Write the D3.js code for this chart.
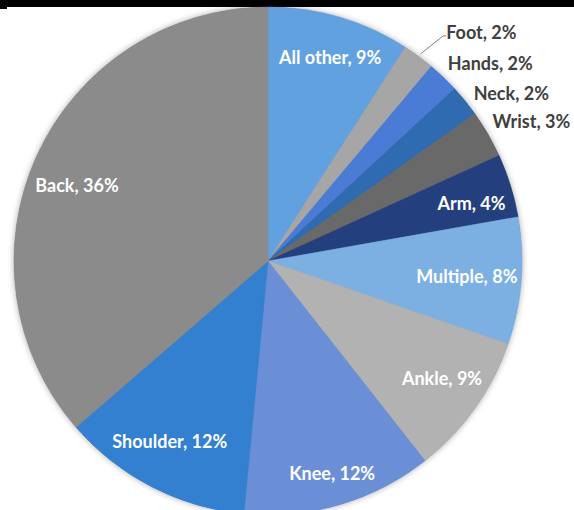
<!DOCTYPE html>
<html><head><meta charset="utf-8">
<script src="https://cdn.jsdelivr.net/npm/d3@7"></script>
<style>html,body{margin:0;padding:0;background:#fff;overflow:hidden}</style>
</head><body>
<svg id="chart" width="574" height="510"></svg>
<script>
// ---- data ----
const categories = ["All other","Foot","Hands","Neck","Wrist","Arm","Multiple","Ankle","Knee","Shoulder","Back"];
const percents   = [9, 2, 2, 2, 3, 4, 8, 9, 12, 12, 36];
const colors     = ["#62a1e0","#a6a6a6","#4a7cd6","#2f6bb0","#696969","#233f7e","#7cb0e2","#b2b2b2","#6b8fd6","#3280cf","#8b8b8b"];
const outsideLabels = ["Foot","Hands","Neck","Wrist"];

// ---- layout ----
const W = 574, H = 510;
const cx = 268, cy = 261, R = 254;
// small label nudges (layout only), in px
const nudge = {
  "All other":[3,-2], "Foot":[0,3], "Hands":[-3,-6], "Neck":[0,0], "Wrist":[-5,-7],
  "Arm":[3,5], "Multiple":[0,-1], "Ankle":[3,-4], "Knee":[5,11], "Shoulder":[-2,-6], "Back":[0,12]
};
const svg = d3.select("#chart");

// top black strip (cropped title bar)
svg.append("rect").attr("x",0).attr("y",0).attr("width",W).attr("height",7).attr("fill","#000");
svg.append("rect").attr("x",0).attr("y",0).attr("width",7).attr("height",9).attr("fill","#000");

const defs = svg.append("defs");
const f = defs.append("filter").attr("id","shadow").attr("x","-10%").attr("y","-10%").attr("width","120%").attr("height","120%");
f.append("feDropShadow").attr("dx",0).attr("dy",0).attr("stdDeviation",3).attr("flood-color","#000").attr("flood-opacity",0.35);

const data = categories.map((c,i)=>({cat:c, value:percents[i], color:colors[i]}));
const pie = d3.pie().sort(null).value(d=>d.value).startAngle(0).endAngle(2*Math.PI);
const arcs = pie(data);
const arc = d3.arc().innerRadius(0).outerRadius(R);

const g = svg.append("g").attr("transform",`translate(${cx},${cy})`);
g.append("circle").attr("r",R).attr("fill","#888").attr("filter","url(#shadow)");
g.selectAll("path.slice").data(arcs).enter().append("path")
  .attr("class","slice")
  .attr("d",arc)
  .attr("fill",d=>d.data.color)
  .attr("stroke",d=>d.data.color).attr("stroke-width",0.5);

const polar = (a,r)=>[r*Math.sin(a), -r*Math.cos(a)];
const font = "Lato, 'Open Sans', sans-serif";
const fs = 18;

arcs.forEach(d=>{
  const mid = (d.startAngle+d.endAngle)/2;
  const label = `${d.data.cat}, ${d.data.value}%`;
  const [nx,ny] = nudge[d.data.cat] || [0,0];
  if (outsideLabels.includes(d.data.cat)) {
    let [x,y] = polar(mid, 265);
    if (d.data.cat === "Foot") {
      [x,y] = polar(mid, 287);
      x += 8;
      x += nx; y += ny;
      const [x0,y0] = polar(mid, R+3);
      g.append("polyline")
        .attr("points", `${x0},${y0} ${x-3},${y+3} ${x},${y+3}`)
        .attr("fill","none").attr("stroke","#7f7f7f").attr("stroke-width",1);
    } else { x += nx; y += ny; }
    g.append("text").attr("x",x).attr("y",y).attr("dy","0.35em")
      .attr("text-anchor","start")
      .attr("font-family",font).attr("font-weight","bold").attr("font-size",fs)
      .attr("fill","#404040").text(label);
  } else {
    let [x,y] = polar(mid, 210);
    y += ny;
    const t = g.append("text").attr("x",x).attr("y",y).attr("dy","0.35em")
      .attr("text-anchor","middle")
      .attr("font-family",font).attr("font-weight","bold").attr("font-size",fs)
      .attr("fill","#fff").text(label);
    const w = t.node().getBBox().width;
    const maxX = Math.sqrt(Math.max(0,R*R - y*y)) - 4;
    if (Math.abs(x) + w/2 > maxX) x = Math.sign(x)*(maxX - w/2);
    t.attr("x", x + nx);
  }
});
</script>
</body></html>
